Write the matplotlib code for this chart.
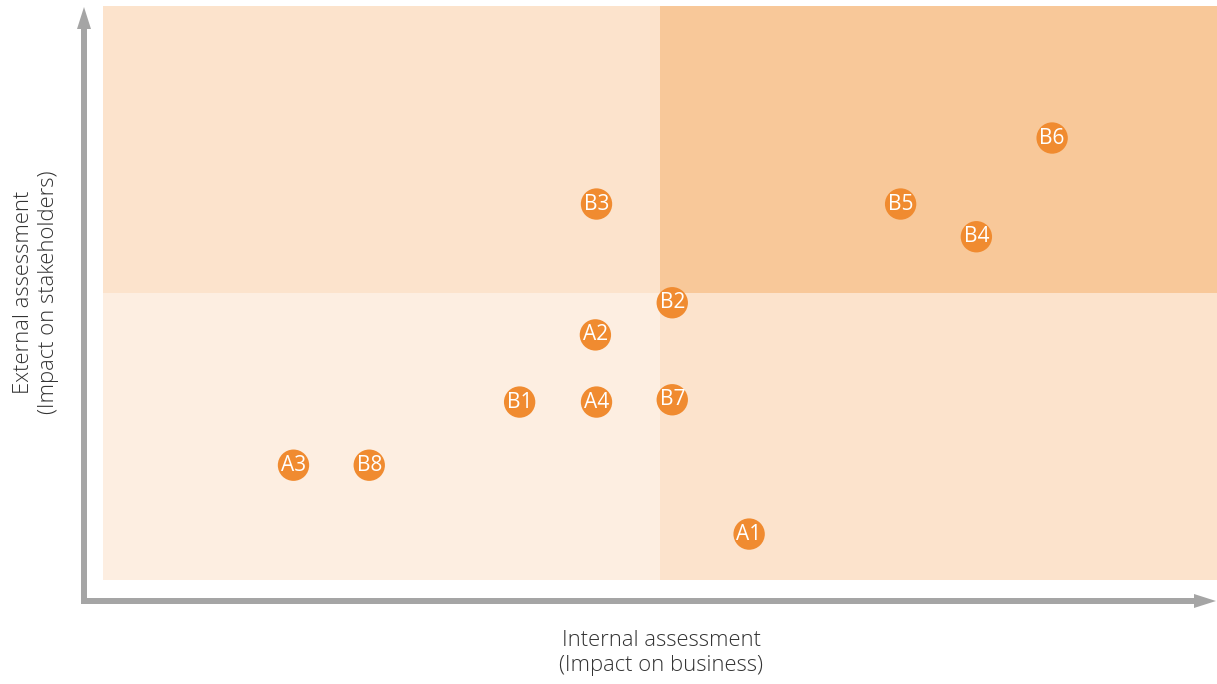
import matplotlib
matplotlib.use("Agg")
import matplotlib.pyplot as plt
from matplotlib.patches import FancyArrow

labels = ["B6", "B5", "B4", "B3", "B2", "A2", "B1", "A4", "B7", "A3", "B8", "A1"]
internal = [8.52, 7.16, 7.84, 4.43, 5.11, 4.42, 3.74, 4.43, 5.11, 1.71, 2.39, 5.80]
external = [7.70, 6.55, 5.98, 6.55, 4.83, 4.27, 3.10, 3.10, 3.14, 2.00, 2.00, 0.80]

x_title = "Internal assessment\n(Impact on business)"
y_title = "External assessment\n(Impact on stakeholders)"

W, H = 1217, 684
fig = plt.figure(figsize=(W / 100, H / 100), dpi=100)

# quadrant area
ax = fig.add_axes([103 / W, (H - 580) / H, 1114 / W, 574 / H])
ax.set_xlim(0, 10)
ax.set_ylim(0, 10)
ax.axis("off")
ax.axvspan(0, 5, ymin=0, ymax=0.5, color="#FDEEE1", lw=0)
ax.axvspan(5, 10, ymin=0, ymax=0.5, color="#FCE3CC", lw=0)
ax.axvspan(0, 5, ymin=0.5, ymax=1, color="#FCE3CC", lw=0)
ax.axvspan(5, 10, ymin=0.5, ymax=1, color="#F8C899", lw=0)

ax.scatter(internal, external, s=510, color="#F08B30", edgecolors="none", zorder=3)
for lab, xv, yv in zip(labels, internal, external):
    ax.text(xv, yv, lab, color="white", fontsize=15, family="Open Sans",
            ha="center", va="center", zorder=4)

# overlay for the arrows and titles, in pixel units
ov = fig.add_axes([0, 0, 1, 1])
ov.set_xlim(0, W)
ov.set_ylim(H, 0)
ov.axis("off")
gray = "#A5A5A5"
ov.add_patch(FancyArrow(84, 604, 0, 7 - 604, width=6, head_width=14, head_length=22,
                        length_includes_head=True, color=gray, lw=0))
ov.add_patch(FancyArrow(81, 601, 1216 - 81, 0, width=6, head_width=14, head_length=22,
                        length_includes_head=True, color=gray, lw=0))

ov.text(661, 653, x_title, ha="center", va="center", fontsize=15.8, color="#333333",
        family="Open Sans", fontweight="light", linespacing=1.3)
ov.text(36, 292, y_title, ha="center", va="center", fontsize=15.8, color="#333333",
        family="Open Sans", fontweight="light", linespacing=1.3, rotation=90)

fig.savefig("out.png", dpi=100)
